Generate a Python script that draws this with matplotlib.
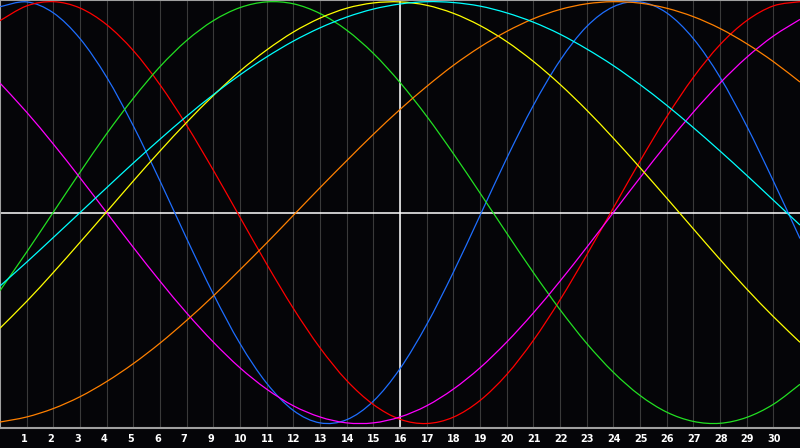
import matplotlib
matplotlib.use("Agg")
import matplotlib.pyplot as plt
import matplotlib.transforms as mtransforms
from matplotlib.path import Path
from matplotlib.patches import PathPatch

# day index 0..30 across the chart
days = list(range(31))

# tick labels at day 1..29 (the chart skips "8")
tick_days = list(range(1, 30))
tick_labels = ["1", "2", "3", "4", "5", "6", "7", "9", "10", "11", "12", "13",
               "14", "15", "16", "17", "18", "19", "20", "21", "22", "23", "24",
               "25", "26", "27", "28", "29", "30"]

# values, -1..1
physical = [0.976, 0.999, 0.947, 0.825, 0.642, 0.411, 0.150, -0.123, -0.386, -0.621,
            -0.809, -0.938, -0.997, -0.982, -0.894, -0.740, -0.531, -0.283, -0.014,
            0.257, 0.508, 0.721, 0.882, 0.976, 0.999, 0.947, 0.825, 0.642, 0.411,
            0.150, -0.123]
emotional = [0.910, 0.980, 1.000, 0.970, 0.891, 0.768, 0.606, 0.414, 0.201, -0.022,
             -0.244, -0.454, -0.641, -0.796, -0.910, -0.980, -1.000, -0.970, -0.891,
             -0.768, -0.606, -0.414, -0.201, 0.022, 0.244, 0.454, 0.641, 0.796, 0.910,
             0.980, 1.000]
intellectual = [-0.370, -0.187, 0.002, 0.191, 0.374, 0.542, 0.692, 0.816, 0.910, 0.972,
                0.999, 0.990, 0.944, 0.865, 0.755, 0.617, 0.457, 0.280, 0.093, -0.097,
                -0.284, -0.460, -0.620, -0.757, -0.867, -0.946, -0.990, -0.999, -0.971,
                -0.909, -0.814]
intuitive = [0.614, 0.476, 0.325, 0.165, 0.000, -0.165, -0.325, -0.476, -0.614, -0.736,
             -0.837, -0.916, -0.969, -0.997, -0.997, -0.969, -0.916, -0.837, -0.736,
             -0.614, -0.476, -0.325, -0.165, 0.000, 0.165, 0.325, 0.476, 0.614, 0.736,
             0.837, 0.916]
aesthetic = [-0.548, -0.421, -0.284, -0.141, 0.004, 0.150, 0.292, 0.428, 0.555, 0.671,
             0.771, 0.856, 0.922, 0.969, 0.994, 0.999, 0.983, 0.945, 0.887, 0.811,
             0.717, 0.608, 0.486, 0.353, 0.213, 0.069, -0.077, -0.222, -0.362, -0.493,
             -0.615]
awareness = [-0.993, -0.969, -0.929, -0.873, -0.801, -0.716, -0.619, -0.511, -0.395,
             -0.271, -0.144, -0.013, 0.118, 0.246, 0.371, 0.489, 0.598, 0.698, 0.785,
             0.859, 0.919, 0.963, 0.990, 1.000, 0.993, 0.969, 0.929, 0.873, 0.801,
             0.716, 0.619]
spiritual = [-0.348, -0.235, -0.118, 0.000, 0.118, 0.235, 0.348, 0.457, 0.559, 0.653,
             0.738, 0.813, 0.876, 0.927, 0.965, 0.989, 1.000, 0.996, 0.979, 0.947,
             0.903, 0.846, 0.776, 0.697, 0.607, 0.509, 0.403, 0.292, 0.177, 0.059,
             -0.059]

series = [
    (physical, "#1e6eff"),
    (emotional, "#ff0000"),
    (intellectual, "#22e022"),
    (intuitive, "#ff00ff"),
    (aesthetic, "#ffff00"),
    (awareness, "#ff8000"),
    (spiritual, "#00ffff"),
]


def smooth_path(xs, ys):
    # catmull-rom through the points, drawn as cubic bezier segments
    pts = list(zip(xs, ys))
    verts = [pts[0]]
    codes = [Path.MOVETO]
    n = len(pts)
    for i in range(n - 1):
        p0 = pts[max(i - 1, 0)]
        p1 = pts[i]
        p2 = pts[i + 1]
        p3 = pts[min(i + 2, n - 1)]
        c1 = (p1[0] + (p2[0] - p0[0]) / 6.0, p1[1] + (p2[1] - p0[1]) / 6.0)
        c2 = (p2[0] - (p3[0] - p1[0]) / 6.0, p2[1] - (p3[1] - p1[1]) / 6.0)
        verts += [c1, c2, p2]
        codes += [Path.CURVE4, Path.CURVE4, Path.CURVE4]
    return Path(verts, codes)


bg = "#050508"
fig = plt.figure(figsize=(8, 4.48), dpi=100, facecolor=bg)
ax = fig.add_axes([0, 20 / 448, 1, 428 / 448])
ax.set_facecolor(bg)

# grid
for d in tick_days:
    ax.axvline(d, color="#3a3a3a", lw=0.8, zorder=1)
ax.axvline(15, color="white", lw=1.1, zorder=2)
ax.axhline(0, color="white", lw=1.1, zorder=2)

for vals, col in series:
    patch = PathPatch(smooth_path(days, vals), facecolor="none", edgecolor=col,
                      lw=0.9, zorder=3)
    ax.add_patch(patch)

ax.set_xlim(0, 30)
ax.set_ylim(-1.0213, 1.008)
ax.set_yticks([])
ax.set_xticks(tick_days)
ax.set_xticklabels(tick_labels, color="white", fontsize=7, fontweight="bold",
                   ha="left", family="DejaVu Sans")
ax.tick_params(axis="x", length=0, pad=4)
offset = mtransforms.ScaledTranslation(-0.06, 0, fig.dpi_scale_trans)
for lab in ax.get_xticklabels():
    lab.set_transform(lab.get_transform() + offset)

for side in ["left", "top", "bottom"]:
    ax.spines[side].set_color("#a0a0a0")
    ax.spines[side].set_linewidth(1.5)
ax.spines["right"].set_visible(False)

fig.savefig("out.png", dpi=100, facecolor=bg)
